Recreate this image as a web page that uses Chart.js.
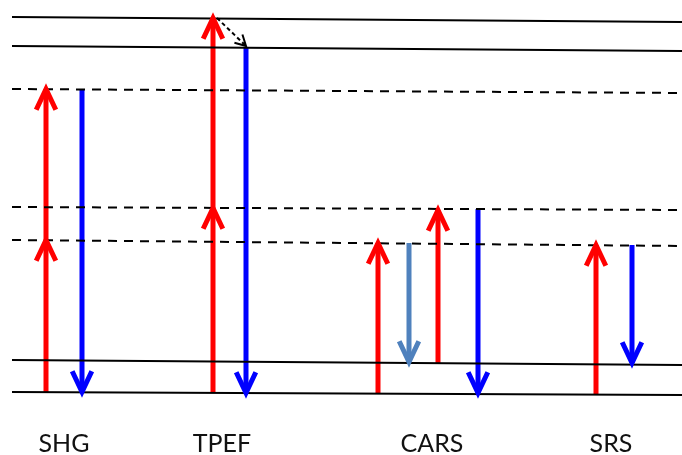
<!DOCTYPE html>
<html><head><meta charset="utf-8">
<script src="https://cdn.jsdelivr.net/npm/chart.js@4"></script>
<style>html,body{margin:0;padding:0;background:#fff}#wrap{width:682px;height:455px;position:relative}</style>
</head><body><div id="wrap"><canvas id="c"></canvas></div>
<script>
// Energy levels (arbitrary energy units, ground = 0), value at left and right end
const levelLeft   = [0, 32, 152, 185, 303, 346, 375];
const levelRight  = [-3, 27, 146, 182, 299, 341, 370];
const levelDashed = [false, false, true, true, true, false, false];
const levelSpan   = [12, 682];

// Transitions
const arrowX     = [46, 46, 82, 213, 213, 246, 378, 409, 438, 478, 596, 632];
const arrowFrom  = [0, 152, 303, -1, 184, 345, -1, 149, 28, 183, -2, 147];
const arrowTo    = [152, 303, 0, 184, 374, -1, 149, 30, 182, -1, 147, 29];
const arrowColor = ['#ff0000','#ff0000','#0000ff','#ff0000','#ff0000','#0000ff','#ff0000','#4f81bd','#ff0000','#0000ff','#ff0000','#0000ff'];

// Non-radiative relaxation (dashed)
const relaxX = [217, 246];
const relaxY = [374, 346];

// Process labels
const processNames = ['SHG', 'TPEF', 'CARS', 'SRS'];
const processX = [64, 222, 432, 611];
const labelY = -60;

const datasets = [];
levelLeft.forEach((v, i) => {
  datasets.push({
    data: [{x: levelSpan[0], y: v}, {x: levelSpan[1], y: levelRight[i]}],
    borderColor: '#000', borderWidth: 2, borderDash: levelDashed[i] ? [9, 7] : [],
    pointRadius: 0, tension: 0, kind: 'level'
  });
});
arrowX.forEach((x, i) => {
  datasets.push({
    data: [{x: x, y: arrowFrom[i]}, {x: x, y: arrowTo[i]}],
    borderColor: arrowColor[i], borderWidth: 5, pointRadius: 0, tension: 0,
    kind: 'arrow', head: 23, spread: 0.44
  });
});
datasets.push({
  data: [{x: relaxX[0], y: relaxY[0]}, {x: relaxX[1], y: relaxY[1]}],
  borderColor: '#000', borderWidth: 2, borderDash: [4, 3], pointRadius: 0, tension: 0,
  kind: 'arrow', head: 12, spread: 0.5
});

const arrowPlugin = {
  id: 'arrows',
  afterDatasetsDraw(chart) {
    const ctx = chart.ctx, xs = chart.scales.x, ys = chart.scales.y;
    chart.data.datasets.forEach(ds => {
      if (ds.kind !== 'arrow') return;
      const a = ds.data[0], b = ds.data[1];
      const x1 = xs.getPixelForValue(a.x), y1 = ys.getPixelForValue(a.y);
      const x2 = xs.getPixelForValue(b.x), y2 = ys.getPixelForValue(b.y);
      const ang = Math.atan2(y2 - y1, x2 - x1);
      const len = ds.head, spread = ds.spread;
      ctx.save();
      ctx.strokeStyle = ds.borderColor;
      ctx.lineWidth = ds.borderWidth;
      ctx.lineCap = 'butt';
      ctx.lineJoin = 'miter';
      ctx.setLineDash([]);
      ctx.beginPath();
      ctx.moveTo(x2 - len * Math.cos(ang - spread), y2 - len * Math.sin(ang - spread));
      ctx.lineTo(x2, y2);
      ctx.lineTo(x2 - len * Math.cos(ang + spread), y2 - len * Math.sin(ang + spread));
      ctx.stroke();
      ctx.restore();
    });
    ctx.save();
    ctx.fillStyle = '#111';
    ctx.font = '25px Lato';
    ctx.textAlign = 'center';
    ctx.textBaseline = 'alphabetic';
    processNames.forEach((t, i) => {
      ctx.fillText(t, xs.getPixelForValue(processX[i]), ys.getPixelForValue(labelY));
    });
    ctx.restore();
  }
};

new Chart(document.getElementById('c'), {
  type: 'line',
  data: { datasets },
  options: {
    responsive: true, maintainAspectRatio: false, animation: false,
    layout: { padding: 0 },
    plugins: { legend: { display: false }, tooltip: { enabled: false } },
    scales: {
      x: { type: 'linear', min: 0, max: 682, display: false },
      y: { type: 'linear', min: -63, max: 392, display: false }
    }
  },
  plugins: [arrowPlugin]
});
</script></body></html>
